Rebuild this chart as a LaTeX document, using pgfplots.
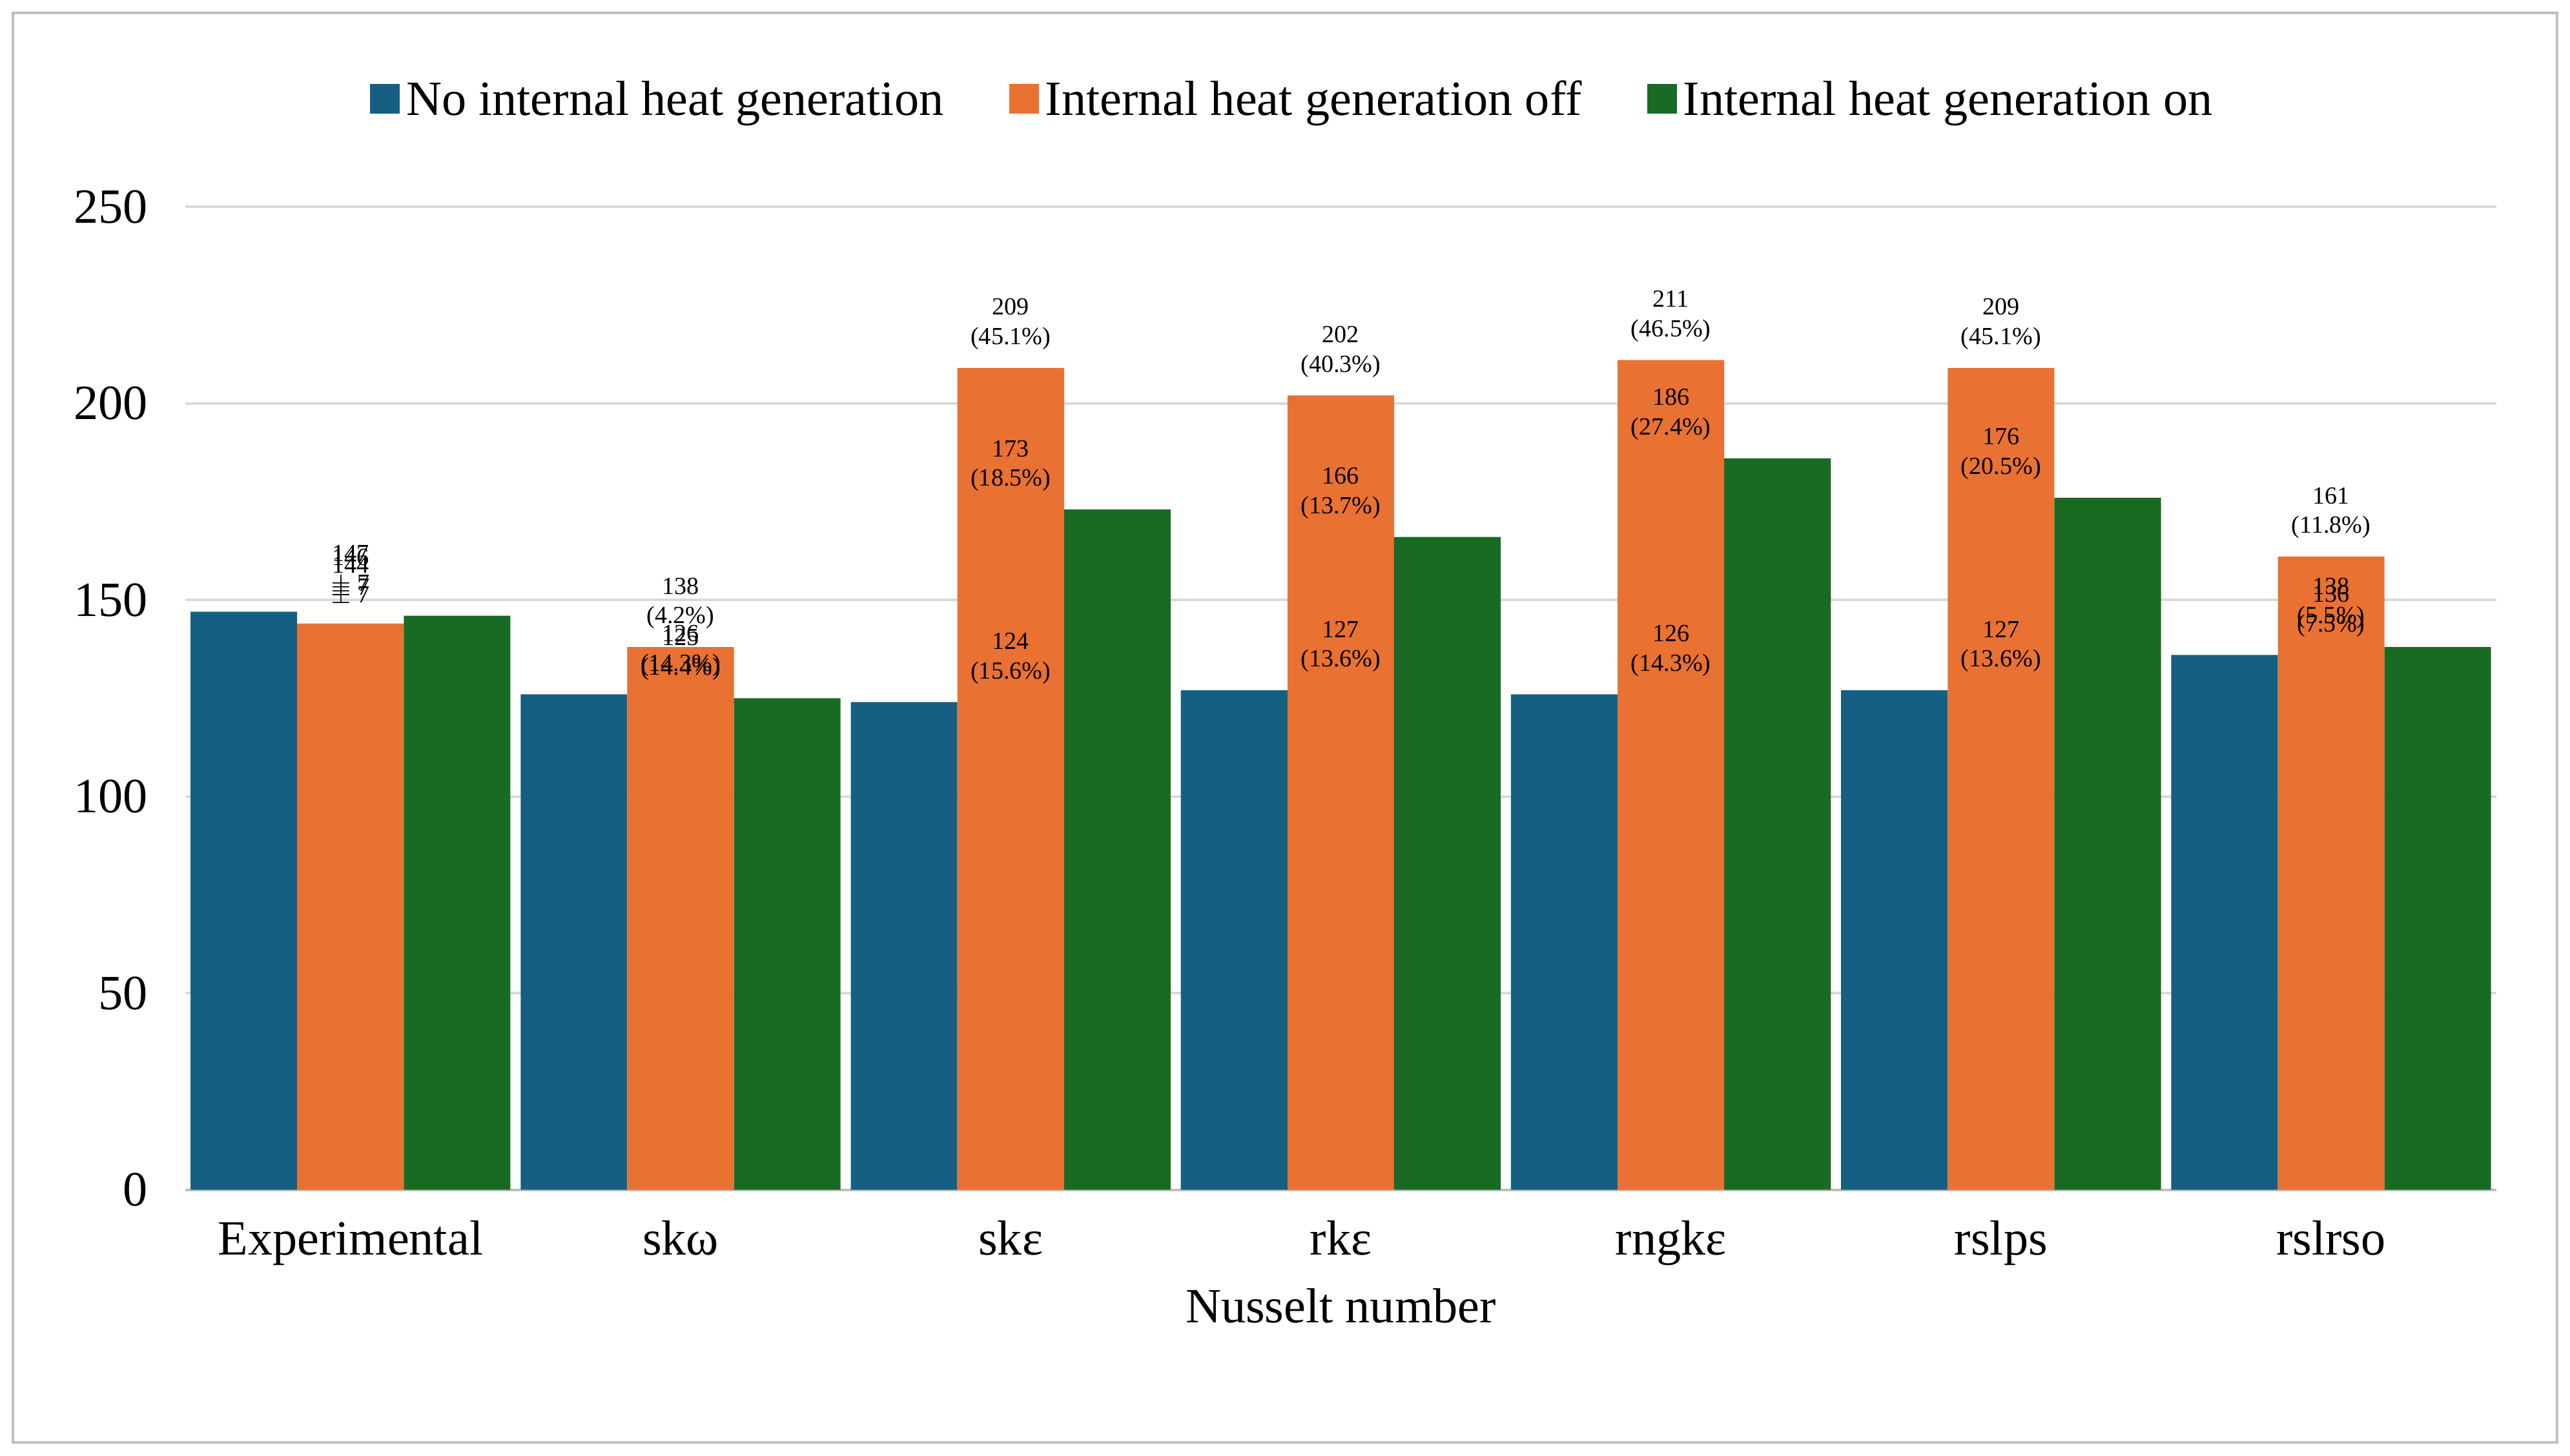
\documentclass[border=0pt]{standalone}
\usepackage{pgfplots}
\pgfplotsset{compat=1.18}
\usepackage{fontspec}
\setmainfont{Liberation Serif}
\definecolor{cb}{HTML}{156082}
\definecolor{co}{HTML}{E97132}
\definecolor{cg}{HTML}{196B24}
\begin{document}
\begin{tikzpicture}
\useasboundingbox (-56.5pt,-81pt) rectangle (726.5pt,362.5pt);
\draw[gray!50, line width=0.8pt] (-52.5pt,-77pt) rectangle (722.5pt,358.5pt);
\begin{axis}[
  scale only axis, width=704pt, height=299.5pt,
  xmin=-0.5, xmax=6.5, ymin=0, ymax=250,
  ytick={0,50,...,250}, xtick={0,...,6},
  xticklabels={Experimental,skω,skε,rkε,rngkε,rslps,rslrso},
  /pgf/number format/assume math mode=true,
  ticklabel style={font=\fontsize{15}{18}\selectfont},
  xticklabel style={yshift=-6pt},
  yticklabel style={xshift=-8pt},
  major tick length=0,
  axis x line*=bottom, axis y line*=left,
  x axis line style={gray!50, line width=0.8pt, -},
  y axis line style={draw=none},
  ymajorgrids, grid style={gray!30, line width=0.8pt},
  xlabel={Nusselt number}, xlabel style={font=\fontsize{15}{18}\selectfont, yshift=0pt},
  ybar=0pt, bar width=0.323,
  point meta=explicit symbolic,
  nodes near coords,
  every node near coord/.style={font=\fontsize{7.5}{9}\selectfont, align=center, anchor=south, yshift=2pt},
  legend style={at={(0.48,1.108)}, anchor=center, draw=none, legend columns=3,
    font=\fontsize{15}{18}\selectfont, /tikz/every even column/.append style={column sep=18pt}},
  legend image code/.code={\fill[#1] (0pt,-4pt) rectangle (9pt,5pt);},
]
\addplot[fill=cb, draw=none] coordinates {
(0,147) [{147\\$\pm$ 7}] (1,126) [{126\\(14.3\%)}] (2,124) [{124\\(15.6\%)}] (3,127) [{127\\(13.6\%)}]
(4,126) [{126\\(14.3\%)}] (5,127) [{127\\(13.6\%)}] (6,136) [{136\\(7.5\%)}]};
\addplot[fill=co, draw=none] coordinates {
(0,144) [{144\\$\pm$ 7}] (1,138) [{138\\(4.2\%)}] (2,209) [{209\\(45.1\%)}] (3,202) [{202\\(40.3\%)}]
(4,211) [{211\\(46.5\%)}] (5,209) [{209\\(45.1\%)}] (6,161) [{161\\(11.8\%)}]};
\addplot[fill=cg, draw=none] coordinates {
(0,146) [{146\\$\pm$ 7}] (1,125) [{125\\(14.4\%)}] (2,173) [{173\\(18.5\%)}] (3,166) [{166\\(13.7\%)}]
(4,186) [{186\\(27.4\%)}] (5,176) [{176\\(20.5\%)}] (6,138) [{138\\(5.5\%)}]};
\legend{No internal heat generation, Internal heat generation off, Internal heat generation on}
\end{axis}
\end{tikzpicture}
\end{document}
